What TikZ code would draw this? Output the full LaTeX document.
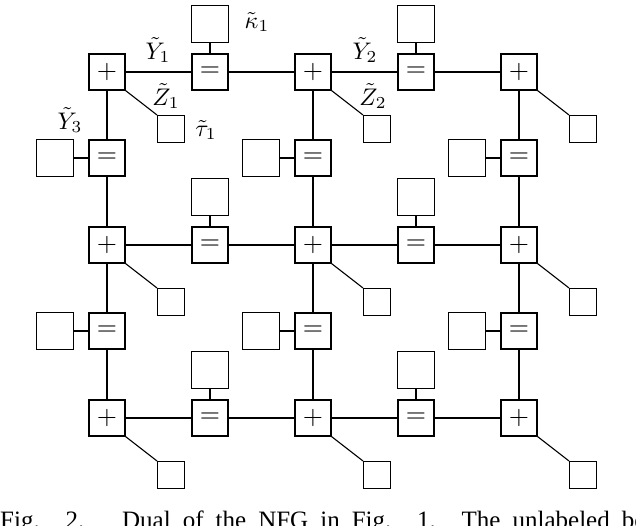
\documentclass[tikz,border=0pt]{standalone}
\usepackage{fontspec}
\setmainfont{Liberation Serif}
\newcommand{\scm}[1]{\scalebox{2.4}{$#1$}}
\newcommand{\scf}[1]{\scalebox{2.6}{$#1$}}
\begin{document}
\begin{tikzpicture}[x=1pt,y=-1pt,
  fn/.style={draw,line width=1.1pt,minimum size=36pt,inner sep=0pt},
  lf/.style={draw,line width=1.1pt,minimum size=37pt,inner sep=0pt},
  sm/.style={draw,line width=1.1pt,minimum size=27pt,inner sep=0pt},
  ed/.style={line width=1.1pt},
  lb/.style={inner sep=1pt}]
\useasboundingbox[clip] (0,0) rectangle (636,526);
\foreach \r/\y in {0/72,1/245,2/418}{
  \foreach \c/\x in {0/107,1/313,2/519}{
    \node[fn] (p\r\c) at (\x,\y) {\scf{+}};
    \node[sm] (t\r\c) at (\x+64,\y+57) {};
    \draw[ed] (p\r\c.south east) -- (t\r\c.north west);
  }
  \foreach \c/\x in {0/210,1/416}{
    \node[fn] (h\r\c) at (\x,\y) {\scf{=}};
    \node[lf] (k\r\c) at (\x,\y-48) {};
    \draw[ed] (h\r\c) -- (k\r\c);
  }
  \draw[ed] (p\r0) -- (h\r0) -- (p\r1) -- (h\r1) -- (p\r2);
}
\foreach \r/\y in {0/158,1/331}{
  \foreach \c/\x in {0/107,1/313,2/519}{
    \node[fn] (v\r\c) at (\x,\y) {\scf{=}};
    \node[lf] (l\r\c) at (\x-52,\y) {};
    \draw[ed] (v\r\c) -- (l\r\c);
  }
}
\foreach \c in {0,1,2}{
  \draw[ed] (p0\c) -- (v0\c) -- (p1\c) -- (v1\c) -- (p2\c);
}
\node[lb] at (158,50) {\scm{\tilde Y_1}};
\node[lb] at (365,50) {\scm{\tilde Y_2}};
\node[lb] at (70,120) {\scm{\tilde Y_3}};
\node[lb] at (166,96) {\scm{\tilde Z_1}};
\node[lb] at (373,96) {\scm{\tilde Z_2}};
\node[lb] at (257,22) {\scm{\tilde\kappa_1}};
\node[lb] at (206,130) {\scm{\tilde\tau_1}};
\node[anchor=base west,inner sep=0pt,font=\fontsize{25}{25}\selectfont] (cap) at (0,528) {\makebox[680pt][s]{Fig. 2. \ Dual of the NFG in Fig. 1. The unlabeled boxes}};
\end{tikzpicture}
\end{document}
